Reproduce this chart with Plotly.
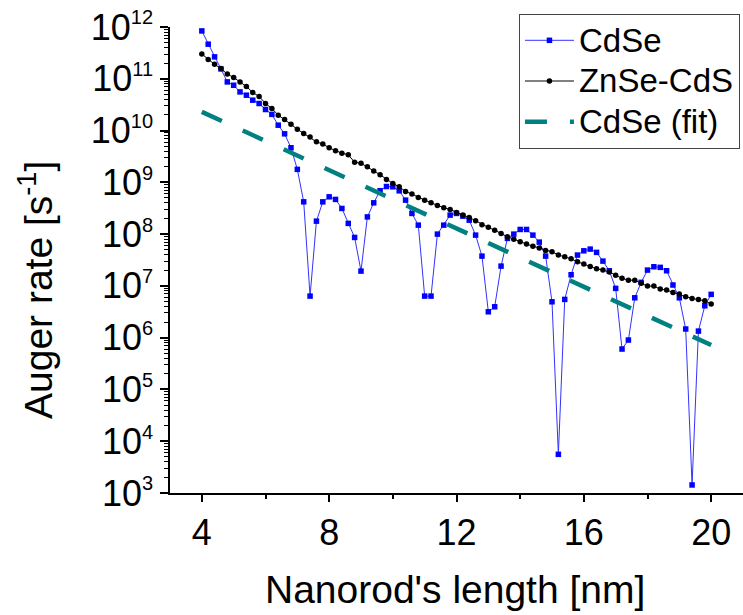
import plotly.graph_objects as go

# Nanorod length grid (nm)
length_nm = [
    4.0, 4.2, 4.4, 4.6, 4.8, 5.0, 5.2, 5.4, 5.6, 5.8,
    6.0, 6.2, 6.4, 6.6, 6.8, 7.0, 7.2, 7.4, 7.6, 7.8,
    8.0, 8.2, 8.4, 8.6, 8.8, 9.0, 9.2, 9.4, 9.6, 9.8,
    10.0, 10.2, 10.4, 10.6, 10.8, 11.0, 11.2, 11.4, 11.6, 11.8,
    12.0, 12.2, 12.4, 12.6, 12.8, 13.0, 13.2, 13.4, 13.6, 13.8,
    14.0, 14.2, 14.4, 14.6, 14.8, 15.0, 15.2, 15.4, 15.6, 15.8,
    16.0, 16.2, 16.4, 16.6, 16.8, 17.0, 17.2, 17.4, 17.6, 17.8,
    18.0, 18.2, 18.4, 18.6, 18.8, 19.0, 19.2, 19.4, 19.6, 19.8,
    20.0,
]

# Auger rates (s^-1)
cdse_rate = [
    8.4e11, 4.66e11, 2.65e11, 1.55e11, 8.7e10, 7.5e10, 5.58e10, 4.82e10, 3.86e10, 3.33e10,
    2.55e10, 2.05e10, 1.27e10, 8.65e9, 4.65e9, 1.78e9, 4.2e8, 6.35e6, 1.78e8, 4.2e8,
    5.25e8, 4.68e8, 3.13e8, 1.61e8, 8.63e7, 1.93e7, 2.15e8, 4.02e8, 6.9e8, 8.3e8,
    8.2e8, 6.86e8, 4.53e8, 2.51e8, 1.49e8, 6.35e6, 6.35e6, 1.0e8, 1.49e8, 2.33e8,
    2.51e8, 2.22e8, 1.86e8, 9.56e7, 3.76e7, 3.16e6, 3.95e6, 2.41e7, 8.26e7, 1.0e8,
    1.23e8, 1.23e8, 9.56e7, 7.0e7, 3.76e7, 4.93e6, 5.58e3, 5.48e6, 1.64e7, 3.94e7,
    4.76e7, 5.13e7, 4.44e7, 3.01e7, 1.96e7, 8.96e6, 6.03e5, 9.0e5, 5.89e6, 1.17e7,
    2.02e7, 2.34e7, 2.28e7, 1.96e7, 1.04e7, 5.89e6, 1.47e6, 1.43e3, 1.34e6, 4.13e6,
    6.86e6,
]

znse_cds_rate = [
    3.0e11, 2.35e11, 1.9e11, 1.58e11, 1.23e11, 1.06e11, 8.71e10, 7.1e10, 5.43e10, 4.55e10,
    3.33e10, 2.67e10, 1.98e10, 1.64e10, 1.32e10, 1.06e10, 8.79e9, 7.55e9, 6.05e9, 5.5e9,
    4.65e9, 4.09e9, 3.66e9, 3.4e9, 2.44e9, 2.34e9, 2.0e9, 1.66e9, 1.4e9, 1.14e9,
    9.53e8, 8.18e8, 6.67e8, 5.92e8, 5.11e8, 4.53e8, 4.02e8, 3.58e8, 3.22e8, 3.0e8,
    2.62e8, 2.33e8, 2.1e8, 1.81e8, 1.51e8, 1.35e8, 1.19e8, 1.03e8, 8.87e7, 8.0e7,
    7.1e7, 6.41e7, 5.86e7, 5.37e7, 4.84e7, 4.55e7, 3.96e7, 3.65e7, 3.33e7, 2.92e7,
    2.64e7, 2.38e7, 2.14e7, 2.02e7, 1.85e7, 1.61e7, 1.4e7, 1.29e7, 1.29e7, 1.12e7,
    9.9e6, 9.9e6, 8.67e6, 8.3e6, 7.48e6, 6.95e6, 6.17e6, 5.73e6, 5.48e6, 5.15e6,
    4.46e6,
]

# Exponential fit of the CdSe rate (straight line on the log axis)
fit_length = [4.0, 20.0]
fit_rate = [2.3e10, 7.2e5]

# Series names
series_names = ["CdSe", "ZnSe-CdS", "CdSe (fit)"]

# Axis ticks
x_major = [4, 8, 12, 16, 20]
x_minor = [6, 10, 14, 18]
y_exponents = [3, 4, 5, 6, 7, 8, 9, 10, 11, 12]

FONT = "Liberation Sans, Arial, sans-serif"

y_tickvals = [10.0 ** e for e in y_exponents]
y_ticktext = [f"10<sup><span style='font-size:20px'>{e}</span></sup>" for e in y_exponents]
y_minor = [m * 10.0 ** e for e in y_exponents[:-1] for m in range(2, 10)]


def legend_label(name):
    # Larger text than the legend's nominal font so rows stay compact
    return f"<span style='font-size:33px'>{name}</span>"


fig = go.Figure()
fig.add_trace(go.Scatter(
    x=length_nm, y=cdse_rate, name=legend_label(series_names[0]), mode="lines+markers",
    line=dict(color="rgb(50,50,255)", width=1),
    marker=dict(symbol="square", size=5.5, color="#0000ff", line=dict(width=0)),
))
fig.add_trace(go.Scatter(
    x=length_nm, y=znse_cds_rate, name=legend_label(series_names[1]), mode="lines+markers",
    line=dict(color="black", width=1),
    marker=dict(symbol="circle", size=5.5, color="black", line=dict(width=0)),
))
fig.add_trace(go.Scatter(
    x=fit_length, y=fit_rate, name=legend_label(series_names[2]), mode="lines",
    line=dict(color="#008080", width=4.5, dash="22px,23px"),
))

fig.update_layout(
    width=743, height=615, autosize=False,
    margin=dict(l=170, r=0, t=27, b=122),
    paper_bgcolor="white", plot_bgcolor="white",
    font=dict(family=FONT, color="black"),
    showlegend=True,
    legend=dict(
        x=0.609, y=1.028, xanchor="left", yanchor="top",
        font=dict(family=FONT, size=29, color="black"),
        bgcolor="white", bordercolor="#444444", borderwidth=1,
        itemwidth=49, tracegroupgap=0,
    ),
    xaxis=dict(
        range=[3, 21], tickvals=x_major, ticktext=[str(v) for v in x_major],
        ticks="outside", ticklen=7, tickwidth=1.5, tickcolor="black",
        showline=True, linewidth=1.5, linecolor="black", mirror=False,
        showgrid=False, zeroline=False,
        tickfont=dict(family=FONT, size=36, color="black"),
        minor=dict(tickvals=x_minor, ticks="outside", ticklen=4, tickwidth=1.5,
                   tickcolor="black", showgrid=False),
    ),
    yaxis=dict(
        type="log", range=[3, 12], tickvals=y_tickvals, ticktext=y_ticktext,
        ticks="outside", ticklen=8, tickwidth=1.5, tickcolor="black",
        showline=True, linewidth=1.5, linecolor="black", mirror=False,
        showgrid=False, zeroline=False,
        tickfont=dict(family=FONT, size=36, color="black"),
        minor=dict(tickvals=y_minor, ticks="outside", ticklen=4, tickwidth=1.2,
                   tickcolor="black", showgrid=False),
    ),
    annotations=[
        dict(text="Nanorod's length [nm]", xref="paper", yref="paper",
             x=0.4974, y=-0.2071, xanchor="center", yanchor="middle",
             showarrow=False, font=dict(family=FONT, size=39, color="black")),
        dict(text="Auger rate [s<sup>-1</sup>]", xref="paper", yref="paper",
             x=-0.2356, y=0.4356, xanchor="center", yanchor="middle",
             textangle=-90, showarrow=False,
             font=dict(family=FONT, size=39, color="black")),
    ],
)

fig.write_html("out.html")
